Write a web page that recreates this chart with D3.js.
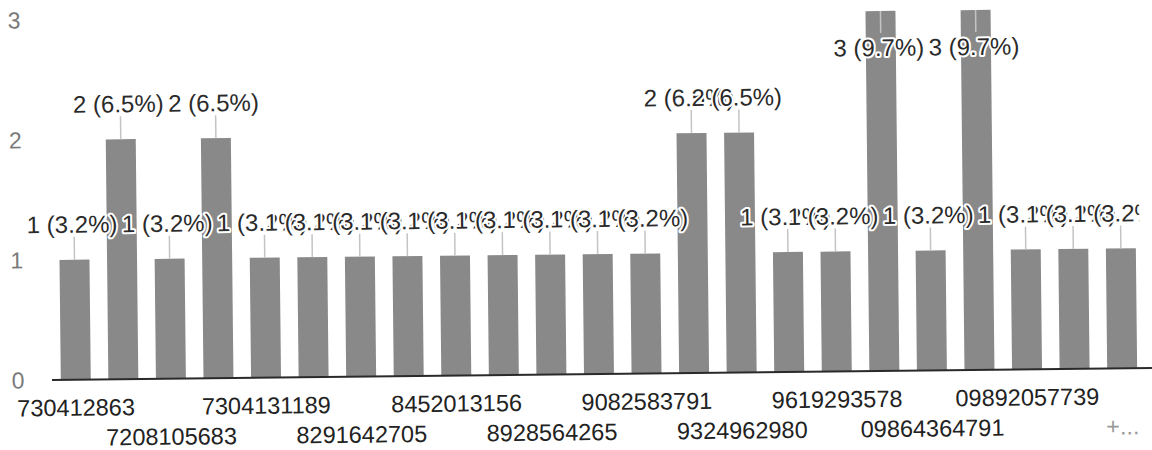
<!DOCTYPE html>
<html>
<head>
<meta charset="utf-8">
<script src="https://cdn.jsdelivr.net/npm/d3@7"></script>
<style>
  html, body { margin: 0; padding: 0; background: #fff; overflow: hidden; }
  svg { display: block; font-family: "Liberation Sans", Arial, sans-serif; }
</style>
</head>
<body>
<svg id="chart" width="1152" height="450"></svg>
<script>
// Category labels (only every other label is shown in the chart; unreadable ones left blank)
const categories = [
  "730412863", "", "7208105683", "", "7304131189", "", "8291642705", "",
  "8452013156", "", "8928564265", "", "9082583791", "", "9324962980", "",
  "9619293578", "", "09864364791", "", "09892057739", "", "+..."
];
// Response counts per category
const counts = [1, 2, 1, 2, 1, 1, 1, 1, 1, 1, 1, 1, 1, 2, 2, 1, 1, 3, 1, 3, 1, 1, 1];
// Y-axis tick values
const yTicks = [0, 1, 2, 3];

const total = d3.sum(counts);
const labels = counts.map(v => `${v} (${(v / total * 100).toFixed(1)}%)`);

const svg = d3.select("#chart");
const plotBase = 380, plotTop = 20, plotLeft = 52, plotRight = 1146;

const x = d3.scaleBand()
  .domain(d3.range(counts.length))
  .range([plotLeft, plotRight])
  .paddingInner(0.37)
  .paddingOuter(0.185);

const y = d3.scaleLinear().domain([0, 3]).range([plotBase, plotTop]);

// clip so the last label is cut like in the reference
svg.append("defs").append("clipPath").attr("id", "vis")
  .append("rect").attr("x", 0).attr("y", -20).attr("width", 1141).attr("height", 500);

// slight scan tilt
const g = svg.append("g").attr("transform", `rotate(-0.62, ${plotLeft}, ${plotBase})`);

// y axis labels
g.append("g").selectAll("text")
  .data(yTicks)
  .join("text")
  .attr("x", 18)
  .attr("y", d => y(d))
  .attr("dy", "0.35em")
  .attr("text-anchor", "middle")
  .attr("font-size", 23)
  .attr("fill", "#7a7a7a")
  .text(d => d);

// bars
g.append("g").selectAll("rect")
  .data(counts)
  .join("rect")
  .attr("x", (d, i) => x(i))
  .attr("y", d => y(d))
  .attr("width", x.bandwidth())
  .attr("height", d => y(0) - y(d))
  .attr("fill", "#898989");

// baseline
g.append("line")
  .attr("x1", plotLeft).attr("x2", 1152)
  .attr("y1", y(0)).attr("y2", y(0))
  .attr("stroke", "#2a2a2a")
  .attr("stroke-width", 2);

// x tick labels (staggered rows)
const xAxis = d3.axisBottom(x).tickSize(0).tickFormat(i => categories[i]);
const ax = g.append("g").attr("transform", `translate(0,${plotBase})`).call(xAxis);
ax.select(".domain").remove();
ax.selectAll(".tick text")
  .attr("font-size", 23.5)
  .attr("font-family", "'Liberation Sans', Arial, sans-serif")
  .attr("fill", d => categories[d] === "+..." ? "#9a9a9a" : "#222")
  .attr("dy", null)
  .attr("y", d => (d % 4 === 0 ? 36 : 66));

// data labels with leader lines
const lbl = g.append("g").attr("clip-path", "url(#vis)");
counts.forEach((v, i) => {
  const cx = x(i) + x.bandwidth() / 2;
  const barTop = y(v);
  let baseline = barTop - 27;
  let l1, l2;
  if (baseline - 18 < 0) {
    baseline = barTop + 45;
    l1 = barTop; l2 = baseline - 23;
  } else {
    l1 = baseline + 4; l2 = barTop;
  }
  lbl.append("line")
    .attr("x1", cx).attr("x2", cx)
    .attr("y1", l1).attr("y2", l2)
    .attr("stroke", "#c4c4c4")
    .attr("stroke-width", 1.5);
  lbl.append("text")
    .attr("x", cx - 2)
    .attr("y", baseline)
    .attr("text-anchor", "middle")
    .attr("font-size", 24)
    .attr("fill", "#2a2a2a")
    .attr("stroke", "#fff")
    .attr("stroke-width", 4)
    .attr("stroke-linejoin", "round")
    .attr("paint-order", "stroke")
    .text(labels[i]);
});
</script>
</body>
</html>
